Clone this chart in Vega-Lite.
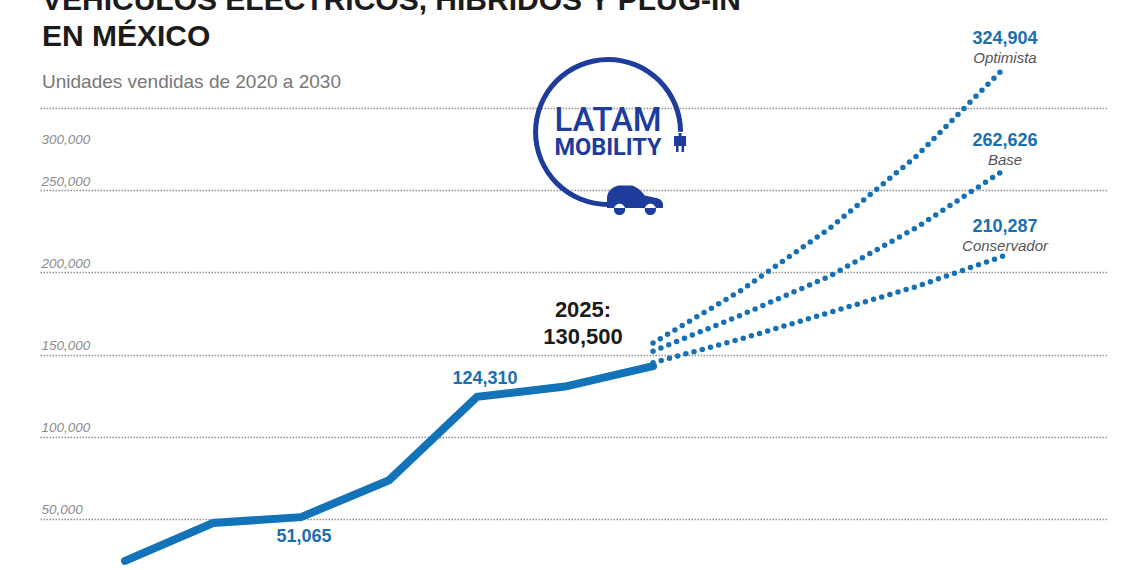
{
  "$schema": "https://vega.github.io/schema/vega-lite/v6.json",
  "width": 1068,
  "height": 462,
  "autosize": {"type": "none"},
  "padding": {"left": 40, "top": 108, "right": 32, "bottom": 0},
  "background": "white",
  "title": {
    "text": ["VEHÍCULOS ELÉCTRICOS, HÍBRIDOS Y PLUG-IN", "EN MÉXICO"],
    "subtitle": "Unidades vendidas de 2020 a 2030",
    "anchor": "start",
    "frame": "group",
    "font": "Liberation Sans",
    "fontSize": 30,
    "fontWeight": "bold",
    "color": "#1b1b1b",
    "lineHeight": 36,
    "subtitleFont": "Liberation Sans",
    "subtitleFontSize": 19,
    "subtitleColor": "#777777",
    "subtitlePadding": 21,
    "offset": -62,
    "dx": 2
  },
  "config": {"view": {"stroke": null}},
  "datasets": {
    "sales": [
      {"year": 2020, "value": 24405, "series": "Histórico"},
      {"year": 2021, "value": 47500, "series": "Histórico"},
      {"year": 2022, "value": 51065, "series": "Histórico"},
      {"year": 2023, "value": 73500, "series": "Histórico"},
      {"year": 2024, "value": 124310, "series": "Histórico"},
      {"year": 2025, "value": 130500, "series": "Histórico"},
      {"year": 2026, "value": 143000, "series": "Histórico"},
      {"year": 2026, "value": 157000, "series": "Optimista"},
      {"year": 2027, "value": 189000, "series": "Optimista"},
      {"year": 2028, "value": 226500, "series": "Optimista"},
      {"year": 2029, "value": 271000, "series": "Optimista"},
      {"year": 2030, "value": 324904, "series": "Optimista"},
      {"year": 2026, "value": 152000, "series": "Base"},
      {"year": 2027, "value": 174000, "series": "Base"},
      {"year": 2028, "value": 197500, "series": "Base"},
      {"year": 2029, "value": 227500, "series": "Base"},
      {"year": 2030, "value": 262626, "series": "Base"},
      {"year": 2026, "value": 145000, "series": "Conservador"},
      {"year": 2027, "value": 159500, "series": "Conservador"},
      {"year": 2028, "value": 175500, "series": "Conservador"},
      {"year": 2029, "value": 191500, "series": "Conservador"},
      {"year": 2030, "value": 210287, "series": "Conservador"}
    ],
    "logo": [
      {"year": 2025.489, "value": 285397, "part": "ring"},
      {"year": 2025.489, "value": 291800, "part": "LATAM"},
      {"year": 2025.489, "value": 275400, "part": "MOBILITY"},
      {"year": 2025.795, "value": 243415, "part": "car"},
      {"year": 2026.307, "value": 278705, "part": "plug"}
    ]
  },
  "layer": [
    {
      "data": {"name": "sales"},
      "transform": [{"filter": "datum.series === 'Histórico'"}],
      "mark": {"type": "line", "strokeWidth": 8, "strokeCap": "round", "color": "#1273b9"},
      "encoding": {
        "x": {
          "field": "year",
          "type": "quantitative",
          "scale": {"domain": [2019.034, 2031.17], "nice": false, "zero": false},
          "axis": null
        },
        "y": {
          "field": "value",
          "type": "quantitative",
          "scale": {"domain": [18900, 300000], "nice": false, "zero": false},
          "axis": {
            "orient": "left",
            "values": [50000, 100000, 150000, 200000, 250000, 300000],
            "labelExpr": "format(datum.value, ',')",
            "title": null,
            "domain": false,
            "ticks": false,
            "tickSize": 0,
            "labelAlign": "left",
            "labelBaseline": "alphabetic",
            "labelPadding": -1,
            "labelOffset": {"condition": {"test": "datum.value === 300000", "value": 35}, "value": -5},
            "labelFont": "Liberation Sans",
            "labelFontStyle": "italic",
            "labelFontSize": 13.5,
            "labelColor": "#8c8c8c",
            "grid": true,
            "gridDash": [1.5, 1.5],
            "gridColor": "#8f8f8f",
            "gridWidth": 1.5
          }
        }
      }
    },
    {
      "data": {"name": "sales"},
      "transform": [{"filter": "datum.series !== 'Histórico'"}],
      "mark": {"type": "line", "strokeWidth": 5.5, "strokeDash": [0, 8.5], "strokeCap": "round", "color": "#1570b5"},
      "encoding": {
        "x": {"field": "year", "type": "quantitative"},
        "y": {"field": "value", "type": "quantitative"},
        "detail": {"field": "series"}
      }
    },
    {
      "data": {"name": "sales"},
      "transform": [{"filter": "datum.series === 'Histórico' && (datum.year === 2020 || datum.year === 2022)"}],
      "mark": {"type": "text", "dy": 20, "dx": 3, "baseline": "middle", "font": "Liberation Sans", "fontWeight": "bold", "fontSize": 18, "color": "#1b6fae"},
      "encoding": {
        "x": {"field": "year", "type": "quantitative"},
        "y": {"field": "value", "type": "quantitative"},
        "text": {"field": "value", "format": ","}
      }
    },
    {
      "data": {"name": "sales"},
      "transform": [{"filter": "datum.series === 'Histórico' && datum.year === 2024"}],
      "mark": {"type": "text", "dy": -18, "dx": 8, "baseline": "middle", "font": "Liberation Sans", "fontWeight": "bold", "fontSize": 18, "color": "#1b6fae"},
      "encoding": {
        "x": {"field": "year", "type": "quantitative"},
        "y": {"field": "value", "type": "quantitative"},
        "text": {"field": "value", "format": ","}
      }
    },
    {
      "data": {"name": "sales"},
      "transform": [{"filter": "datum.series === 'Histórico' && datum.year === 2025"}],
      "mark": {"type": "text", "dy": -43, "dx": 18, "baseline": "alphabetic", "font": "Liberation Sans", "fontWeight": "bold", "fontSize": 22, "color": "#1b1b1b"},
      "encoding": {
        "x": {"field": "year", "type": "quantitative"},
        "y": {"field": "value", "type": "quantitative"},
        "text": {"field": "value", "format": ","}
      }
    },
    {
      "data": {"name": "sales"},
      "transform": [{"filter": "datum.series === 'Histórico' && datum.year === 2025"}],
      "mark": {"type": "text", "dy": -70, "dx": 18, "baseline": "alphabetic", "font": "Liberation Sans", "fontWeight": "bold", "fontSize": 22, "color": "#1b1b1b", "text": "2025:"},
      "encoding": {
        "x": {"field": "year", "type": "quantitative"},
        "y": {"field": "value", "type": "quantitative"}
      }
    },
    {
      "data": {"name": "sales"},
      "transform": [{"filter": "datum.series !== 'Histórico' && datum.year === 2030"}],
      "mark": {"type": "text", "dy": -28, "baseline": "middle", "font": "Liberation Sans", "fontWeight": "bold", "fontSize": 18, "color": "#1b6fae"},
      "encoding": {
        "x": {"field": "year", "type": "quantitative"},
        "y": {"field": "value", "type": "quantitative"},
        "text": {"field": "value", "format": ","}
      }
    },
    {
      "data": {"name": "sales"},
      "transform": [{"filter": "datum.series !== 'Histórico' && datum.year === 2030"}],
      "mark": {"type": "text", "dy": -9, "baseline": "middle", "font": "Liberation Sans", "fontStyle": "italic", "fontSize": 15, "color": "#555555"},
      "encoding": {
        "x": {"field": "year", "type": "quantitative"},
        "y": {"field": "value", "type": "quantitative"},
        "text": {"field": "series"}
      }
    },
    {
      "data": {"name": "logo"},
      "transform": [{"filter": "datum.part === 'ring'"}],
      "mark": {"type": "arc", "radius": 75, "radius2": 70, "theta": 3.14, "theta2": 7.85, "color": "#1d3c9c"},
      "encoding": {
        "x": {"field": "year", "type": "quantitative"},
        "y": {"field": "value", "type": "quantitative"}
      }
    },
    {
      "data": {"name": "logo"},
      "transform": [{"filter": "datum.part === 'LATAM'"}],
      "mark": {"type": "text", "font": "Roboto", "fontWeight": 500, "fontSize": 33, "color": "#1d3c9c", "baseline": "middle", "align": "center"},
      "encoding": {
        "x": {"field": "year", "type": "quantitative"},
        "y": {"field": "value", "type": "quantitative"},
        "text": {"field": "part"}
      }
    },
    {
      "data": {"name": "logo"},
      "transform": [{"filter": "datum.part === 'MOBILITY'"}],
      "mark": {"type": "text", "font": "Roboto", "fontWeight": "bold", "fontSize": 23.5, "color": "#1d3c9c", "baseline": "middle", "align": "center"},
      "encoding": {
        "x": {"field": "year", "type": "quantitative"},
        "y": {"field": "value", "type": "quantitative"},
        "text": {"field": "part"}
      }
    },
    {
      "data": {"name": "logo"},
      "transform": [{"filter": "datum.part === 'car'"}],
      "mark": {"type": "point", "filled": true, "opacity": 1, "size": 3136, "color": "#1d3c9c",
        "shape": "M-1,0.25 L-1,-0.15 Q-0.95,-0.45 -0.6,-0.55 L-0.1,-0.55 Q0.1,-0.5 0.35,-0.2 L0.8,-0.1 Q1,-0.05 1,0.15 L1,0.25 Z M-0.75,0.3 A0.2,0.2 0 1 0 -0.35,0.3 A0.2,0.2 0 1 0 -0.75,0.3 Z M0.35,0.3 A0.2,0.2 0 1 0 0.75,0.3 A0.2,0.2 0 1 0 0.35,0.3 Z"},
      "encoding": {
        "x": {"field": "year", "type": "quantitative"},
        "y": {"field": "value", "type": "quantitative"}
      }
    },
    {
      "data": {"name": "logo"},
      "transform": [{"filter": "datum.part === 'plug'"}],
      "mark": {"type": "point", "filled": true, "opacity": 1, "size": 400, "color": "#1d3c9c",
        "shape": "M-0.15,-1 L0.15,-1 L0.15,-0.7 L0.6,-0.7 L0.6,0.3 L0.4,0.3 L0.4,0.9 L0.15,0.9 L0.15,0.3 L-0.15,0.3 L-0.15,0.9 L-0.4,0.9 L-0.4,0.3 L-0.6,0.3 L-0.6,-0.7 L-0.15,-0.7 Z"},
      "encoding": {
        "x": {"field": "year", "type": "quantitative"},
        "y": {"field": "value", "type": "quantitative"}
      }
    }
  ]
}
